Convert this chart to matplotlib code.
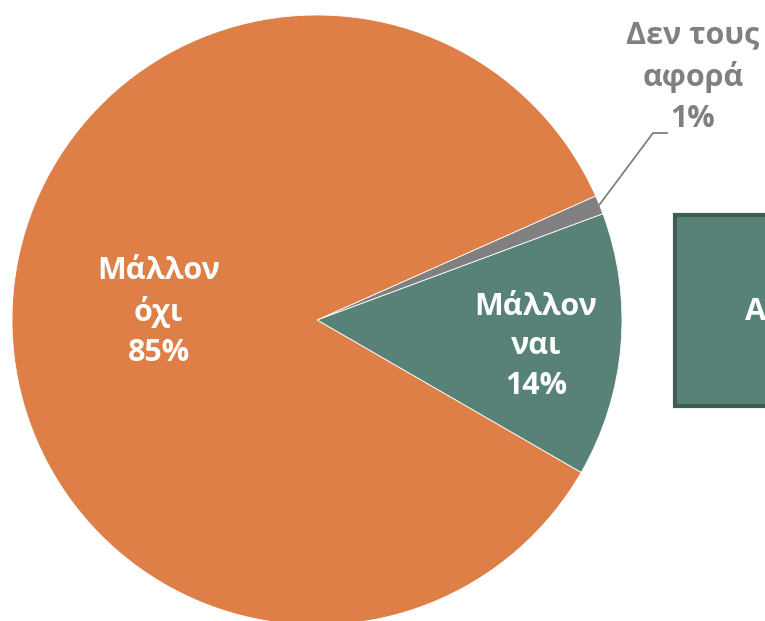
import numpy as np
import matplotlib.pyplot as plt

plt.rcParams['font.family'] = ['Open Sans', 'DejaVu Sans']

labels = ['Μάλλον\nναι', 'Δεν τους\nαφορά', 'Μάλλον\nόχι']
values = [14, 1, 85]
colors = ['#588278', '#808080', '#DD7F46']
box_text = 'Απάντηση'

fig = plt.figure(figsize=(7.65, 6.21), dpi=100)
ax = fig.add_axes([0, 0, 1, 1])

cx, cy, r = 317, 301, 305
wedges, _ = ax.pie(values, colors=colors, startangle=-30, counterclock=True,
                   center=(cx, cy), radius=r,
                   wedgeprops=dict(edgecolor='white', linewidth=0.6))
ax.set_xlim(0, 765)
ax.set_ylim(0, 621)
ax.set_aspect('equal')
ax.axis('off')

def mid_point(w, frac):
    a = np.deg2rad((w.theta1 + w.theta2) / 2)
    return cx + frac * r * np.cos(a), cy + frac * r * np.sin(a)

# labels inside the big slices
for i, frac, dy in [(0, 0.72, -8), (2, 0.52, 0)]:
    x, y = mid_point(wedges[i], frac)
    ax.text(x, y + dy, '%s\n%d%%' % (labels[i], values[i]), color='white',
            fontsize=22, fontweight='bold', ha='center', va='center',
            linespacing=1.42)

# small slice label with leader line
x0, y0 = mid_point(wedges[1], 1.0)
ax.plot([x0, 653, 667], [y0, 621 - 133, 621 - 133], color='#808080', lw=1.3)
ax.text(693, 621 - 77, '%s\n%d%%' % (labels[1], values[1]), color='#808080',
        fontsize=22, fontweight='bold', ha='center', va='center',
        linespacing=1.45)

# box on the right (cut by the figure edge, as in the source)
ax.add_patch(plt.Rectangle((675, 621 - 406), 200, 191, facecolor='#588278',
                           edgecolor='#3E5E54', lw=3, clip_on=False))
ax.text(745, 621 - 311, box_text, color='white', fontsize=22,
        fontweight='bold', ha='left', va='center')

fig.savefig('out.png', dpi=100)
